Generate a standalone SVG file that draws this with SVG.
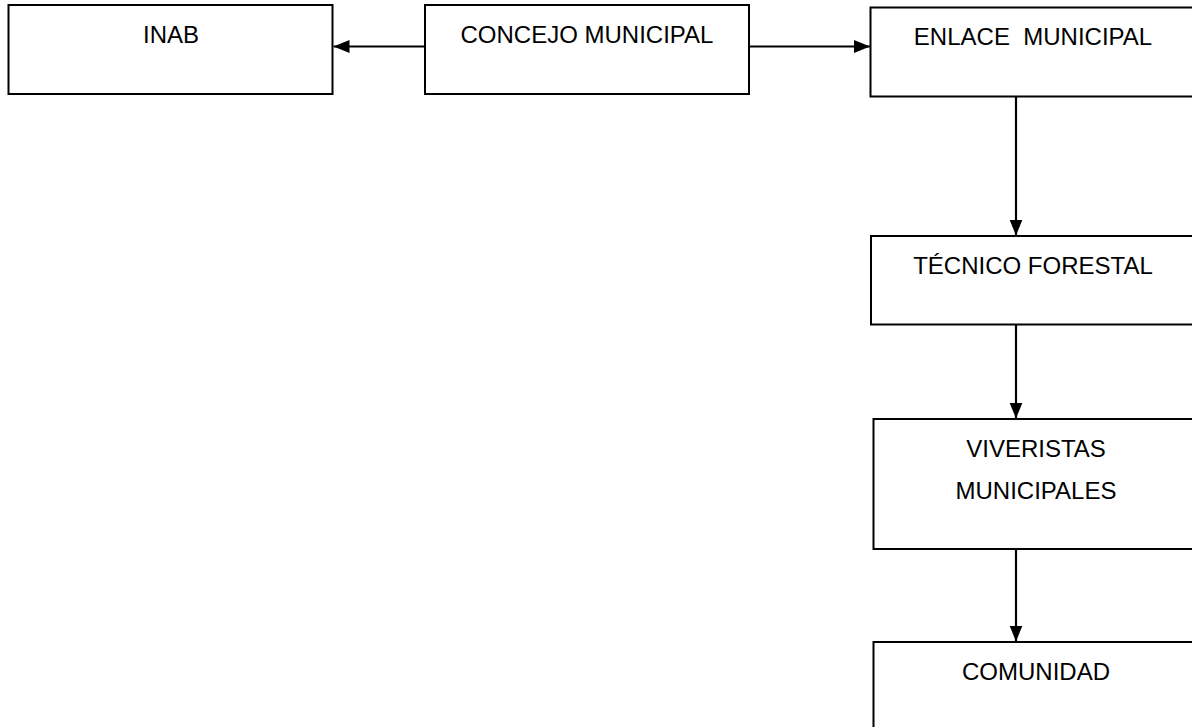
<svg xmlns="http://www.w3.org/2000/svg" width="1192" height="727" viewBox="0 0 1192 727">
<style>
.box{fill:#fff;stroke:#000;stroke-width:2}
.lbl{font-family:"Liberation Sans",Arial,sans-serif;font-size:24px;fill:#000;text-anchor:middle}
.con{stroke:#000;stroke-width:2.2;fill:none;marker-end:url(#ah)}
</style>
<defs>
<marker id="ah" markerUnits="userSpaceOnUse" markerWidth="17" markerHeight="16" refX="16" refY="8" orient="auto">
<path d="M0,1.5 L16,8 L0,14.5 Z" fill="#000"/>
</marker>
</defs>
<rect width="1192" height="727" fill="#fff"/>
<g id="inab"><rect class="box" x="8.5" y="5" width="324" height="89"/><text class="lbl" x="171" y="43">INAB</text></g>
<g id="concejo"><rect class="box" x="425" y="5" width="324" height="89"/><text class="lbl" x="587" y="43">CONCEJO MUNICIPAL</text></g>
<g id="enlace"><rect class="box" x="870.5" y="7.5" width="340" height="89"/><text class="lbl" x="1033" y="45" xml:space="preserve">ENLACE  MUNICIPAL</text></g>
<g id="tecnico"><rect class="box" x="871" y="236" width="340" height="88.5"/><text class="lbl" x="1033" y="274">TÉCNICO FORESTAL</text></g>
<g id="viveristas"><rect class="box" x="873.5" y="419" width="340" height="130"/><text class="lbl" x="1036" y="457">VIVERISTAS</text><text class="lbl" x="1036" y="499">MUNICIPALES</text></g>
<g id="comunidad"><rect class="box" x="873.5" y="642" width="340" height="120"/><text class="lbl" x="1036" y="680">COMUNIDAD</text></g>
<g id="connectors">
<line class="con" x1="425" y1="46.5" x2="333.5" y2="46.5"/>
<line class="con" x1="749" y1="46.5" x2="870" y2="46.5"/>
<line class="con" x1="1016" y1="96.5" x2="1016" y2="235.5"/>
<line class="con" x1="1016" y1="324.5" x2="1016" y2="418.5"/>
<line class="con" x1="1016" y1="549" x2="1016" y2="641.5"/>
</g>
</svg>
